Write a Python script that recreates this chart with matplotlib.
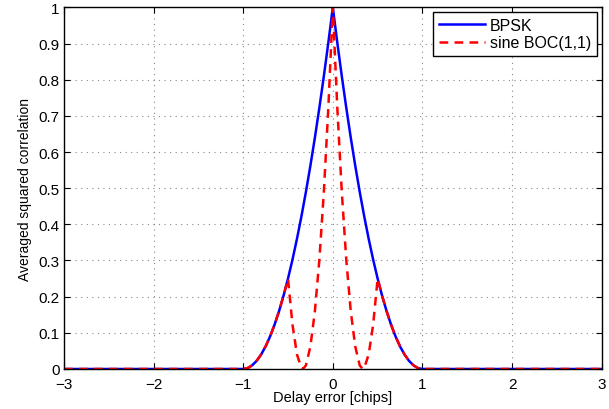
import matplotlib
matplotlib.use("Agg")
import matplotlib.pyplot as plt

plt.rcParams['font.family'] = ['Liberation Sans', 'DejaVu Sans']

# Delay error samples (chips)
tau_bpsk = [-3.0, -1.0, -0.95, -0.9, -0.85, -0.8, -0.75, -0.7, -0.65, -0.6, -0.55,
            -0.5, -0.45, -0.4, -0.35, -0.3, -0.25, -0.2, -0.15, -0.1, -0.05, 0.0,
            0.05, 0.1, 0.15, 0.2, 0.25, 0.3, 0.35, 0.4, 0.45, 0.5,
            0.55, 0.6, 0.65, 0.7, 0.75, 0.8, 0.85, 0.9, 0.95, 1.0, 3.0]
bpsk = [0.0, 0.0, 0.0025, 0.01, 0.0225, 0.04, 0.0625, 0.09, 0.1225, 0.16, 0.2025,
        0.25, 0.3025, 0.36, 0.4225, 0.49, 0.5625, 0.64, 0.7225, 0.81, 0.9025, 1.0,
        0.9025, 0.81, 0.7225, 0.64, 0.5625, 0.49, 0.4225, 0.36, 0.3025, 0.25,
        0.2025, 0.16, 0.1225, 0.09, 0.0625, 0.04, 0.0225, 0.01, 0.0025, 0.0, 0.0]

tau_boc = [-3.0, -1.0, -0.95, -0.9, -0.85, -0.8, -0.75, -0.7, -0.65, -0.6, -0.55,
           -0.5, -0.45, -0.4, -0.35, -0.333, -0.3, -0.25, -0.2, -0.15, -0.1, -0.05, 0.0,
           0.05, 0.1, 0.15, 0.2, 0.25, 0.3, 0.333, 0.35, 0.4, 0.45, 0.5,
           0.55, 0.6, 0.65, 0.7, 0.75, 0.8, 0.85, 0.9, 0.95, 1.0, 3.0]
boc = [0.0, 0.0, 0.0025, 0.01, 0.0225, 0.04, 0.0625, 0.09, 0.1225, 0.16, 0.2025,
       0.25, 0.1225, 0.04, 0.0025, 0.0, 0.01, 0.0625, 0.16, 0.3025, 0.49, 0.7225, 1.0,
       0.7225, 0.49, 0.3025, 0.16, 0.0625, 0.01, 0.0, 0.0025, 0.04, 0.1225, 0.25,
       0.2025, 0.16, 0.1225, 0.09, 0.0625, 0.04, 0.0225, 0.01, 0.0025, 0.0, 0.0]

xticks = [-3, -2, -1, 0, 1, 2, 3]
yticks = [0, 0.1, 0.2, 0.3, 0.4, 0.5, 0.6, 0.7, 0.8, 0.9, 1]

fig = plt.figure(figsize=(6.09, 4.10), dpi=100)
ax = fig.add_axes([0.105, 0.0976, 0.883, 0.882])
ax.plot(tau_bpsk, bpsk, color='#0000ff', lw=1.8, label='BPSK')
ax.plot(tau_boc, boc, color='#ff0000', lw=1.8, ls=(0, (3.5, 2.5)), label='sine BOC(1,1)')
ax.set_xlim(-3, 3)
ax.set_ylim(0, 1)
ax.set_xticks(xticks)
ax.set_yticks(yticks)
ax.set_xticklabels(['\u22123', '\u22122', '\u22121', '0', '1', '2', '3'])
ax.set_yticklabels(['0', '0.1', '0.2', '0.3', '0.4', '0.5', '0.6', '0.7', '0.8', '0.9', '1'])
ax.tick_params(direction='in', labelsize=11, length=4, width=0.8, top=True, right=True)
ax.tick_params(axis='x', pad=6)
ax.tick_params(axis='y', pad=3)
ax.grid(True, color='#888888', ls=(0, (1, 4)), lw=0.8)
for s in ax.spines.values():
    s.set_linewidth(1.0)
ax.set_xlabel('Delay error [chips]', fontsize=10.5, labelpad=-1)
ax.set_ylabel('Averaged squared correlation', fontsize=10, labelpad=5)
leg = ax.legend(loc='upper right', fontsize=11.5, fancybox=False, framealpha=1,
                edgecolor='black', borderaxespad=0.3, handlelength=2.9,
                handletextpad=0.3, borderpad=0.35, labelspacing=0.15)
leg.get_frame().set_linewidth(1.0)
fig.savefig('out.png', dpi=100)
